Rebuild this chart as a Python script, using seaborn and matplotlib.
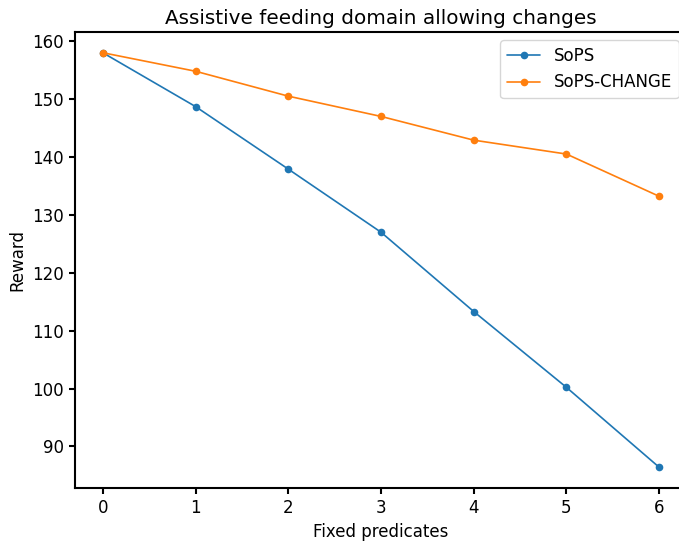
import numpy as np
import pandas as pd
import matplotlib
matplotlib.use("Agg")
import matplotlib.pyplot as plt
import seaborn as sns

# values
fixed_predicates = [0, 1, 2, 3, 4, 5, 6]
sops = [158.0, 148.7, 137.9, 127.0, 113.3, 100.2, 86.4]
sops_change = [158.0, 154.8, 150.5, 147.0, 142.9, 140.5, 133.2]

df = pd.DataFrame({
    "Fixed predicates": fixed_predicates * 2,
    "Reward": sops + sops_change,
    "method": ["SoPS"] * 7 + ["SoPS-CHANGE"] * 7,
})

sns.set_theme(style="ticks", context="notebook")
plt.rcParams["font.family"] = ["DejaVu Sans"]
plt.rcParams["text.color"] = "black"
plt.rcParams["axes.labelcolor"] = "black"
plt.rcParams["xtick.color"] = "black"
plt.rcParams["ytick.color"] = "black"
plt.rcParams["axes.linewidth"] = 1.5
plt.rcParams["axes.edgecolor"] = "black"
plt.rcParams["xtick.major.width"] = 1.5
plt.rcParams["ytick.major.width"] = 1.5
plt.rcParams["xtick.major.size"] = 4.5
plt.rcParams["ytick.major.size"] = 4.5

fig = plt.figure(figsize=(6.79, 5.43), dpi=100)
ax = fig.add_axes([75 / 679, 1 - 488 / 543, 612 / 679, 456 / 543])

sns.lineplot(data=df, x="Fixed predicates", y="Reward", hue="method",
             palette=["#1f77b4", "#ff7f0e"], marker="o", markersize=5.5,
             markeredgewidth=0, linewidth=1.2, ax=ax)

ax.set_title("Assistive feeding domain allowing changes", fontsize=14.4, color="black")
ax.set_xlabel("Fixed predicates", fontsize=12)
ax.set_ylabel("Reward", fontsize=12)
ax.tick_params(labelsize=12)
ax.set_xticks(fixed_predicates)
ax.legend(title=None, loc="upper right", fontsize=12)

fig.savefig("out.png", dpi=100)
